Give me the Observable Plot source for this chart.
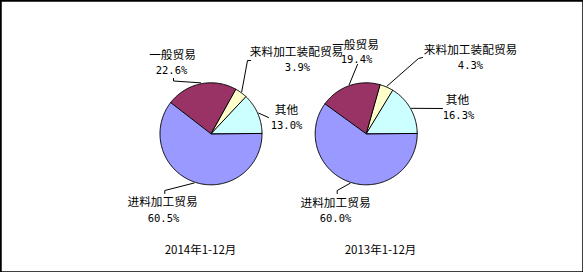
<!DOCTYPE html>
<html>
<head>
<meta charset="utf-8">
<script src="https://cdn.jsdelivr.net/npm/d3@7"></script>
<script src="https://cdn.jsdelivr.net/npm/@observablehq/plot@0.6"></script>
<style>
  html, body { margin: 0; padding: 0; background: #fff; }
  #chart svg { display: block; }
</style>
</head>
<body>
<div id="chart"></div>
<script>
// ---- data ----
const categories = ["其他", "来料加工装配贸易", "一般贸易", "进料加工贸易"];
const values2014 = [13.0, 3.9, 22.6, 60.5];
const values2013 = [16.3, 4.3, 19.4, 60.0];
const pctLabels2014 = ["13.0%", "3.9%", "22.6%", "60.5%"];
const pctLabels2013 = ["16.3%", "4.3%", "19.4%", "60.0%"];
const periods = ["2014年1-12月", "2013年1-12月"];

// ---- layout / style ----
const W = 583, H = 272;
const colors = ["#CCFFFF", "#FFFFCC", "#993366", "#9999FF"];
const pieLayout = [
  {cx: 210.5, cy: 133.3, r: 51, titleX: 200, titleY: 250},
  {cx: 365.7, cy: 133.3, r: 51, titleX: 380, titleY: 250}
];
// label placement per pie, per category (name centre, percent centre, leader elbows)
const labelLayout = [
  [
    {tx: 286, ty: 110, px: 286, py: 125, elbow: [[268, 117]]},
    {tx: 296, ty: 52, px: 297, py: 67, elbow: [[247, 60], [250, 60]]},
    {tx: 172, ty: 55, px: 171, py: 70, elbow: [[173, 80.5], [173, 78]]},
    {tx: 162, ty: 202, px: 163, py: 218, elbow: [[164.3, 190], [164.3, 193]]}
  ],
  [
    {tx: 457, ty: 100, px: 458, py: 115, elbow: [[442, 108]]},
    {tx: 470, ty: 50, px: 470, py: 65, elbow: [[418, 58], [422, 57]]},
    {tx: 355, ty: 45, px: 356, py: 59.5, elbow: [[357, 64]]},
    {tx: 335, ty: 202.5, px: 335, py: 218.5, elbow: [[336.7, 190], [336.7, 193]]}
  ]
];

const series = [
  {values: values2014, pct: pctLabels2014, period: periods[0]},
  {values: values2013, pct: pctLabels2013, period: periods[1]}
];

const marks = [];
const texts = [];
const pctTexts = [];
const titles = [];

series.forEach((s, pi) => {
  const L = pieLayout[pi];
  const total = d3.sum(s.values);
  let acc = 0;
  s.values.forEach((v, ci) => {
    const a0 = acc / total * 2 * Math.PI;
    acc += v;
    const a1 = acc / total * 2 * Math.PI;
    // slice polygon (counter-clockwise from east, screen y downward)
    const pts = [{x: L.cx, y: L.cy}];
    const n = Math.max(2, Math.ceil((a1 - a0) / (Math.PI / 180)));
    for (let k = 0; k <= n; k++) {
      const a = a0 + (a1 - a0) * k / n;
      pts.push({x: L.cx + L.r * Math.cos(a), y: L.cy - L.r * Math.sin(a)});
    }
    marks.push(Plot.line(pts, {
      x: "x", y: "y", curve: "linear-closed",
      fill: colors[ci], stroke: "black", strokeWidth: 1, strokeLinejoin: "round"
    }));
    // leader line from slice mid-angle edge to label elbow
    const am = (a0 + a1) / 2;
    const lay = labelLayout[pi][ci];
    const lead = [{x: L.cx + (L.r + 1) * Math.cos(am), y: L.cy - (L.r + 1) * Math.sin(am)}]
      .concat(lay.elbow.map(([x, y]) => ({x, y})));
    marks.push(Plot.line(lead, {x: "x", y: "y", stroke: "black", strokeWidth: 1}));
    texts.push({x: lay.tx, y: lay.ty, t: categories[ci]});
    pctTexts.push({x: lay.px, y: lay.py, t: s.pct[ci]});
  });
  titles.push({x: L.titleX, y: L.titleY, t: s.period});
});

const chart = Plot.plot({
  width: W, height: H,
  margin: 0,
  x: {domain: [0, W], range: [0, W], axis: null},
  y: {domain: [0, H], range: [0, H], axis: null},
  style: {background: "white"},
  marks: [
    ...marks,
    Plot.text(texts, {x: "x", y: "y", text: "t", fill: "black",
      fontFamily: "Noto Sans CJK SC", fontSize: 11.7, textAnchor: "middle", lineAnchor: "middle"}),
    Plot.text(pctTexts, {x: "x", y: "y", text: "t", fill: "black",
      fontFamily: "DejaVu Sans Mono", fontSize: 10.5, textAnchor: "middle", lineAnchor: "middle"}),
    Plot.text(titles, {x: "x", y: "y", text: "t", fill: "black",
      fontFamily: "Noto Sans CJK SC", fontSize: 11.5, textAnchor: "middle", lineAnchor: "middle"}),
    Plot.frame({stroke: "black", strokeWidth: 2.5})
  ]
});
document.getElementById("chart").appendChild(chart);
</script>
</body>
</html>
